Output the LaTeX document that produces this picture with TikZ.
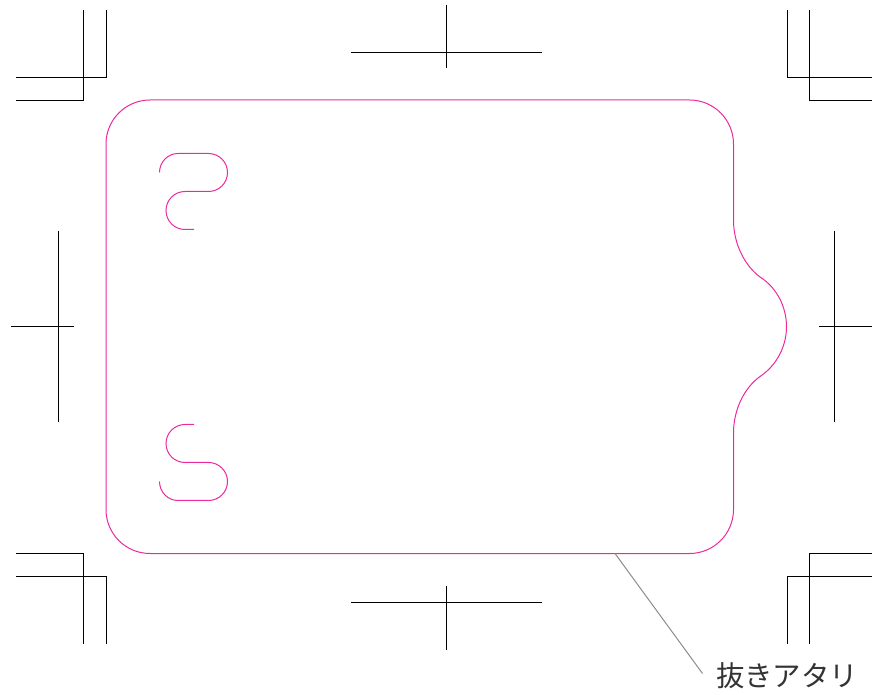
\documentclass[tikz,border=0pt]{standalone}
\usepackage{fontspec}
\newfontfamily\jpfont{Noto Sans CJK JP}
\definecolor{cutpink}{HTML}{EC2A9C}
\definecolor{leadgray}{HTML}{8C8C8C}
\definecolor{labeltext}{HTML}{333333}
\tikzset{
  trim/.style={draw=black,line width=0.6pt},
  cutline/.style={draw=cutpink,line width=0.75pt},
  leader/.style={draw=leadgray,line width=0.75pt},
  callout/.style={text=labeltext,font=\jpfont\fontsize{21.3pt}{24pt}\selectfont,inner sep=0pt,anchor=center}
}
\begin{document}
\begin{tikzpicture}[x=0.75pt,y=-0.75pt]
\useasboundingbox (0,0) rectangle (872,695);
% corner trim marks
\draw[trim] (83.5,10) -- (83.5,100) -- (16,100);
\draw[trim] (106,10) -- (106,77) -- (16,77);
\draw[trim] (787,10) -- (787,77) -- (872,77);
\draw[trim] (809.5,10) -- (809.5,100) -- (872,100);
\draw[trim] (83.5,644) -- (83.5,553.5) -- (16,553.5);
\draw[trim] (106,644) -- (106,576.5) -- (16,576.5);
\draw[trim] (787,644) -- (787,576.5) -- (872,576.5);
\draw[trim] (809.5,644) -- (809.5,553.5) -- (872,553.5);
% centre marks
\draw[trim] (351,52) -- (542,52) (446,5) -- (446,68);
\draw[trim] (351,602) -- (542,602) (446,586) -- (446,650);
\draw[trim] (58,231) -- (58,422) (11,326.5) -- (74,326.5);
\draw[trim] (834.7,231) -- (834.7,422) (819,326.5) -- (872,326.5);
% outline
\draw[cutline] (150,100) -- (689.5,100)
  .. controls (713.8,100) and (733.5,119.7) .. (733.5,144)
  -- (733.5,220)
  .. controls (733.5,243) and (744,265) .. (760,277)
  .. controls (776,287) and (786.5,306) .. (786.5,326.7)
  .. controls (786.5,347) and (776,366) .. (760,376.5)
  .. controls (744,388) and (733.5,410) .. (733.5,433)
  -- (733.5,509.5)
  .. controls (733.5,533.8) and (713.8,553.5) .. (689.5,553.5)
  -- (150,553.5)
  .. controls (125.7,553.5) and (106,533.8) .. (106,509.5)
  -- (106,144)
  .. controls (106,119.7) and (125.7,100) .. (150,100) -- cycle;
% slots
\draw[cutline] (159.5,172.5)
  .. controls (159.5,162) and (167.8,153.5) .. (178,153.5)
  -- (208.5,153.5)
  .. controls (219,153.5) and (227.5,162) .. (227.5,172.5)
  .. controls (227.5,183) and (219,191.5) .. (208.5,191.5)
  -- (185,191.5)
  .. controls (174.5,191.5) and (166,200) .. (166,210.5)
  .. controls (166,221) and (174.5,229.5) .. (185,229.5)
  -- (194,229.5);
\draw[cutline] (194,424.5) -- (185,424.5)
  .. controls (174.5,424.5) and (166,433) .. (166,443.5)
  .. controls (166,454) and (174.5,462.5) .. (185,462.5)
  -- (208.5,462.5)
  .. controls (219,462.5) and (227.5,471) .. (227.5,481.5)
  .. controls (227.5,492) and (219,500.5) .. (208.5,500.5)
  -- (178,500.5)
  .. controls (167.8,500.5) and (159.5,492) .. (159.5,481.5);
% callout
\coordinate (leaderstart) at (615,553.5);
\coordinate (leaderend) at (702.5,673.5);
\node[callout] (cutlabel) at (787,676) {抜きアタリ};
\draw[leader] (leaderstart) -- (leaderend);
\end{tikzpicture}
\end{document}
